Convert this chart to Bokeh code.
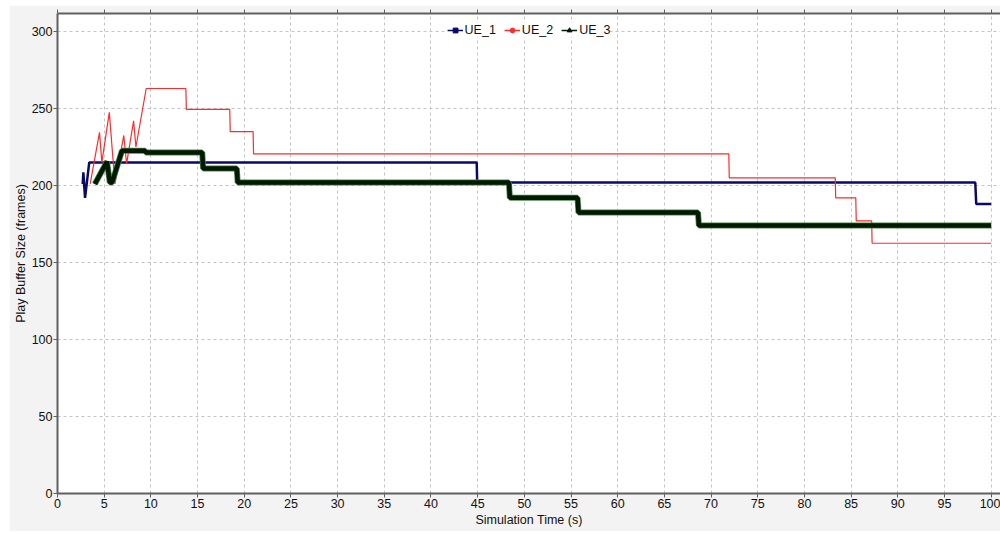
from bokeh.plotting import figure
from bokeh.models import Range1d, LinearAxis, Legend, LegendItem, ColumnDataSource
from bokeh.embed import file_html
from bokeh.resources import INLINE

# ---- data ----
ue1_t = [2.7, 2.77, 2.95, 3.4, 44.9, 44.95, 98.3, 98.4, 100.0]
ue1_v = [201, 208.5, 192, 215, 215, 202, 202, 188, 188]

ue2_t = [3.5, 4.5, 4.75, 5.55, 6.15, 7.1, 7.4, 8.15, 8.4, 9.5, 13.75, 13.8,
         18.45, 18.5, 20.95, 21.0, 71.9, 71.95, 83.3, 83.35, 85.5, 85.55,
         87.2, 87.25, 100.0]
ue2_v = [201, 234.5, 215, 247.5, 201, 232.5, 214, 242, 225, 263, 263, 249.5,
         249.5, 235, 235, 220.5, 220.5, 205, 205, 192, 192, 177, 177, 162.5, 162.5]

ue3_t = [4.0, 5.3, 5.6, 5.85, 6.9, 9.4, 9.45, 15.5, 15.6, 19.2, 19.3, 48.35,
         48.45, 55.7, 55.8, 68.6, 68.7, 100.0]
ue3_v = [201, 215.5, 202, 202, 222.5, 222.5, 221.5, 221.5, 211, 211, 202, 202,
         192, 192, 182.5, 182.5, 174, 174]

series_names = ["UE_1", "UE_2", "UE_3"]
x_ticks = list(range(0, 101, 5))
y_ticks = list(range(0, 301, 50))

FONT = "Liberation Sans"

p = figure(width=991, height=526, output_backend="svg", toolbar_location=None,
           x_range=Range1d(0, 101.0), y_range=Range1d(0, 311.7),
           min_border_left=48, min_border_right=0, min_border_top=8,
           min_border_bottom=38, background_fill_color="white",
           border_fill_color="#f3f3f3", outline_line_color=None)
p.margin = (5, 0, 3, 9)

for ax in (p.xaxis[0], p.yaxis[0]):
    ax.axis_line_color = "#606060"
    ax.axis_line_width = 2
    ax.major_tick_line_color = "#606060"
    ax.minor_tick_line_color = "#606060"
    ax.major_tick_in = 0
    ax.major_tick_out = 4
    ax.minor_tick_in = 0
    ax.minor_tick_out = 2
    ax.major_label_text_font = FONT
    ax.major_label_text_font_size = "12.5px"
    ax.major_label_text_color = "#111111"
    ax.axis_label_text_font = FONT
    ax.axis_label_text_font_size = "12.5px"
    ax.axis_label_text_font_style = "normal"
    ax.axis_label_text_color = "#111111"
    ax.major_label_standoff = 1

p.xaxis.ticker = x_ticks
p.yaxis.ticker = y_ticks
p.xaxis[0].ticker.num_minor_ticks = 5
p.yaxis[0].ticker.num_minor_ticks = 5
p.xaxis.axis_label = "Simulation Time (s)"
p.yaxis.axis_label = "Play Buffer Size (frames)"
p.xaxis.axis_label_standoff = 2
p.yaxis.axis_label_standoff = 1

top = LinearAxis(ticker=x_ticks, axis_line_color="#606060", axis_line_width=2,
                 major_tick_in=0, major_tick_out=4, minor_tick_in=0, minor_tick_out=2,
                 major_tick_line_color="#606060", minor_tick_line_color="#606060",
                 major_label_text_font_size="1px", major_label_standoff=0,
                 major_label_text_alpha=0)
top.ticker.num_minor_ticks = 5
p.add_layout(top, "above")

p.xgrid.ticker = x_ticks
p.ygrid.ticker = y_ticks
for g in (p.xgrid[0], p.ygrid[0]):
    g.grid_line_color = "#c4c4c4"
    g.grid_line_dash = "3 3"
    g.grid_line_width = 1

c1, c2, c3o, c3i = "#0a0a66", "#ff2a2a", "#4a8a4a", "#021a02"

p.line(ue1_t, ue1_v, line_color=c1, line_width=2.5)
p.line(ue2_t, ue2_v, line_color=c2, line_width=1.2)
p.line(ue3_t, ue3_v, line_color=c3o, line_width=6)
p.line(ue3_t, ue3_v, line_color=c3i, line_width=4.5)

# legend proxies (no visible data)
nan = float("nan")
def proxy():
    return ColumnDataSource(dict(x=[nan], y=[nan]))

l1 = p.line("x", "y", source=proxy(), line_color=c1, line_width=1.5)
m1 = p.scatter("x", "y", source=proxy(), marker="square", size=6,
               fill_color=c1, line_color=c1)
l2 = p.line("x", "y", source=proxy(), line_color=c2, line_width=1.5)
m2 = p.scatter("x", "y", source=proxy(), marker="circle", size=6,
               fill_color=c2, line_color=c2)
l3 = p.line("x", "y", source=proxy(), line_color=c3i, line_width=1.5)
m3 = p.scatter("x", "y", source=proxy(), marker="triangle", size=8,
               fill_color=c3i, line_color=c3i)

legend = Legend(items=[LegendItem(label=series_names[0], renderers=[l1, m1]),
                       LegendItem(label=series_names[1], renderers=[l2, m2]),
                       LegendItem(label=series_names[2], renderers=[l3, m3])],
                location="top_center", orientation="horizontal",
                label_text_font=FONT, label_text_font_size="12.5px",
                label_text_color="#111111", glyph_width=16, glyph_height=12,
                label_standoff=2, spacing=8, padding=3, margin=10,
                border_line_color=None, background_fill_color="white",
                background_fill_alpha=1.0, label_height=12)
p.add_layout(legend, "center")

open("out.html", "w").write(file_html(p, INLINE))
